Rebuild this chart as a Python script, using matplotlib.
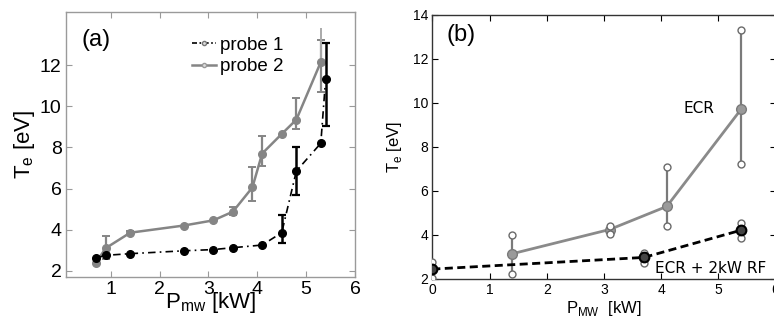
import matplotlib
matplotlib.use('Agg')
import matplotlib.pyplot as plt
from matplotlib.lines import Line2D

plt.rcParams['font.family'] = ['Liberation Sans', 'DejaVu Sans']
plt.rcParams['mathtext.fontset'] = 'custom'
plt.rcParams['mathtext.rm'] = 'Liberation Sans'

# ---------------- panel (a) data ----------------
p1_x = [0.7, 0.9, 1.4, 2.5, 3.1, 3.5, 4.1, 4.5, 4.8, 5.3, 5.4]
p1_y = [2.62, 2.75, 2.83, 2.97, 3.03, 3.12, 3.25, 3.85, 6.85, 8.2, 11.35]
p1_err_x = [4.5, 4.8, 5.4]
p1_err_lo = [3.35, 5.7, 9.05]
p1_err_hi = [4.72, 8.0, 13.1]

p2_x = [0.7, 0.9, 1.4, 2.5, 3.1, 3.5, 3.9, 4.1, 4.5, 4.8, 5.3]
p2_y = [2.4, 3.1, 3.85, 4.2, 4.45, 4.87, 6.05, 7.7, 8.65, 9.35, 12.15]
p2_err_x = [0.9, 1.4, 3.5, 3.9, 4.1, 4.8, 5.3]
p2_err_lo = [2.55, 3.75, 4.7, 5.4, 7.1, 8.9, 10.7]
p2_err_hi = [3.7, 3.95, 5.1, 7.05, 8.55, 10.4, 13.2]
p2_extra_x = [5.3]
p2_extra_hi = [13.8]

a_xticks = [1, 2, 3, 4, 5, 6]
a_yticks = [2, 4, 6, 8, 10, 12]

# ---------------- panel (b) data ----------------
ecr_x = [1.4, 3.1, 4.1, 5.4]
ecr_y = [3.15, 4.25, 5.3, 9.72]
ecr_lo = [2.25, 4.05, 4.4, 7.22]
ecr_hi = [4.0, 4.4, 7.1, 13.3]

rf_x = [0.0, 3.7, 5.4]
rf_y = [2.45, 2.98, 4.22]
rf_lo = [2.05, 2.75, 3.88]
rf_hi = [2.76, 3.2, 4.55]

b_xticks = [0, 1, 2, 3, 4, 5, 6]
b_yticks = [2, 4, 6, 8, 10, 12, 14]

W, H = 774, 322
fig = plt.figure(figsize=(W / 100, H / 100), dpi=100)

def pos(l, t, r, b):
    return [l / W, (H - b) / H, (r - l) / W, (b - t) / H]

# ================= panel (a) =================
axa = fig.add_axes(pos(65.7, 11.7, 355, 276.7))
GRAY = '#858585'
frame_a = '#9a9a9a'

def yerr_for(xs, ys, ex, lo, hi):
    d = dict(zip(xs, ys))
    c = [d[x] for x in ex]
    return c, [[ci - l for ci, l in zip(c, lo)], [h - ci for ci, h in zip(c, hi)]]

c2, e2 = yerr_for(p2_x, p2_y, p2_err_x, p2_err_lo, p2_err_hi)
axa.errorbar(p2_err_x, c2, yerr=e2, fmt='none', ecolor=GRAY, elinewidth=1.6,
             capsize=3, capthick=1.4, zorder=2)
c2b, e2b = yerr_for(p2_x, p2_y, p2_extra_x, [p2_y[-1]], p2_extra_hi)
axa.errorbar(p2_extra_x, c2b, yerr=e2b, fmt='none', ecolor='#aaaaaa',
             elinewidth=1.4, capsize=0, zorder=2)
axa.plot(p2_x, p2_y, '-', color=GRAY, lw=1.8, marker='o', ms=5.5,
         mfc=GRAY, mec=GRAY, zorder=3)

c1, e1 = yerr_for(p1_x, p1_y, p1_err_x, p1_err_lo, p1_err_hi)
axa.errorbar(p1_err_x, c1, yerr=e1, fmt='none', ecolor='black', elinewidth=1.8,
             capsize=3, capthick=1.6, zorder=4)
axa.plot(p1_x, p1_y, color='black', lw=1.2, ls=(0, (4.5, 2.5, 1, 2.5)),
         marker='o', ms=5.5, mfc='black', mec='black', zorder=5)

axa.set_xlim(0.08, 6.0)
axa.set_ylim(1.71, 14.6)
axa.set_xticks(a_xticks)
axa.set_yticks(a_yticks)
axa.tick_params(direction='in', top=True, right=True, length=4, width=0.8,
                color=frame_a, labelsize=14, pad=3)
for s in axa.spines.values():
    s.set_color(frame_a)
    s.set_linewidth(1.0)
axa.set_xlabel(r'P$_{\mathrm{mw}}$ [kW]', fontsize=16, labelpad=-6)
axa.set_ylabel(r'T$_{\mathrm{e}}$ [eV]', fontsize=16, labelpad=2)
axa.text(0.055, 0.935, '(a)', transform=axa.transAxes, fontsize=17,
         ha='left', va='top')

h1 = Line2D([], [], color='black', lw=1.2, ls=(0, (3, 1.5, 1, 1.5)),
            marker='o', ms=3, mfc='#dddddd', mec='#777777')
h2 = Line2D([], [], color=GRAY, lw=1.8, marker='o', ms=3, mfc='#dddddd',
            mec='#999999')
axa.legend([h1, h2], ['probe 1', 'probe 2'], loc='upper left',
           bbox_to_anchor=(0.41, 0.935), frameon=False, fontsize=13.5,
           handlelength=1.3, handletextpad=0.2, labelspacing=0.25,
           borderaxespad=0.0)

# ================= panel (b) =================
axb = fig.add_axes(pos(432.3, 15, 775.5, 279))
ECRC = '#8a8a8a'

axb.vlines(ecr_x, ecr_lo, ecr_hi, color='#7a7a7a', lw=1.6, zorder=2)
axb.plot(ecr_x, ecr_y, '-', color=ECRC, lw=2.0, marker='o', ms=7,
         mfc='#9a9a9a', mec='#7a7a7a', zorder=3)
axb.plot(ecr_x, ecr_lo, 'o', ls='none', ms=5, mfc='white', mec='#6a6a6a',
         mew=1.0, zorder=4)
axb.plot(ecr_x, ecr_hi, 'o', ls='none', ms=5, mfc='white', mec='#6a6a6a',
         mew=1.0, zorder=4)

axb.vlines(rf_x, rf_lo, rf_hi, color='#555555', lw=1.2, zorder=5)
axb.plot(rf_x, rf_lo, 'o', ls='none', ms=5, mfc='white', mec='#6a6a6a',
         mew=1.0, zorder=6)
axb.plot(rf_x, rf_hi, 'o', ls='none', ms=5, mfc='white', mec='#6a6a6a',
         mew=1.0, zorder=6)
axb.plot(rf_x, rf_y, color='black', lw=2.0, ls=(0, (2.9, 1.6)),
         marker='o', ms=7, mfc='#444444', mec='black', mew=1.5, zorder=7)

axb.set_xlim(0, 6)
axb.set_ylim(2, 14)
axb.set_xticks(b_xticks)
axb.set_yticks(b_yticks)
axb.tick_params(direction='in', top=True, right=True, length=4, width=0.8,
                labelsize=10, pad=3)
for s in axb.spines.values():
    s.set_color('#333333')
    s.set_linewidth(1.0)
axb.set_xlabel(r'P$_{\mathrm{MW}}$  [kW]', fontsize=12, labelpad=1)
axb.set_ylabel(r'T$_{\mathrm{e}}$ [eV]', fontsize=12, labelpad=6)
axb.text(0.04, 0.965, '(b)', transform=axb.transAxes, fontsize=17,
         ha='left', va='top')
axb.text(4.67, 9.73, 'ECR', fontsize=11, ha='center', va='center',
         family='DejaVu Sans')
axb.text(3.89, 2.26, 'ECR + 2kW RF', fontsize=11, ha='left', va='baseline',
         family='DejaVu Sans')

fig.savefig('out.png', dpi=100)
